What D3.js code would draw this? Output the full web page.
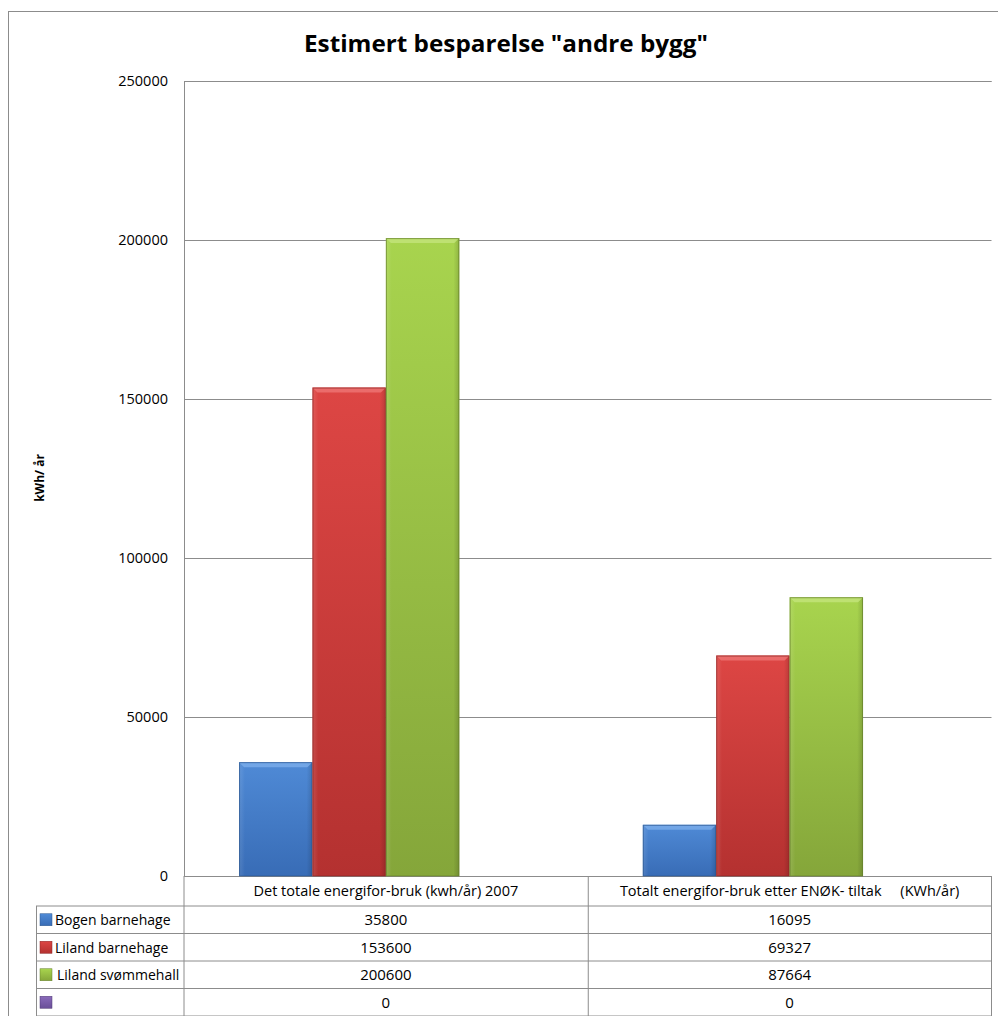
<!DOCTYPE html>
<html><head><meta charset="utf-8">
<script src="https://cdn.jsdelivr.net/npm/d3@7"></script>
<style>
html,body{margin:0;padding:0;background:#fff;}
svg{display:block;font-family:"Open Sans",sans-serif;}
</style></head>
<body><svg id="c" width="998" height="1016"></svg>
<script>
const categories = ["Det totale energifor-bruk (kwh/år) 2007", "Totalt energifor-bruk etter ENØK- tiltak     (KWh/år)"];
const seriesNames = ["Bogen barnehage", "Liland barnehage", "Liland svømmehall", ""];
const seriesValues = [
  [35800, 16095],
  [153600, 69327],
  [200600, 87664],
  [0, 0]
];
const yTicks = [0, 50000, 100000, 150000, 200000, 250000];
const title = 'Estimert besparelse "andre bygg"';
const yLabel = "kWh/ år";

const colors = [
  {top:"#4f8ad6", bot:"#386cb6", edge:"#2c578f", hi:"#7fb0ec"},
  {top:"#dd4644", bot:"#b43130", edge:"#8a2524", hi:"#ef7a78"},
  {top:"#a8d44e", bot:"#85a63a", edge:"#66802c", hi:"#c6e67f"},
  {top:"#8a6bbb", bot:"#6a4e98", edge:"#4e3873", hi:"#b097d8"}
];

const svg = d3.select("#c");
const L = 184, R = 991.5, T = 81, B = 876;
const tableLeft = 36, rowH = 27.5, headerH = 30;

const defs = svg.append("defs");
colors.forEach((c,i)=>{
  const g = defs.append("linearGradient").attr("id","g"+i).attr("x1",0).attr("y1",0).attr("x2",0).attr("y2",1);
  g.append("stop").attr("offset","0%").attr("stop-color",c.top);
  g.append("stop").attr("offset","100%").attr("stop-color",c.bot);
  const h = defs.append("linearGradient").attr("id","h"+i).attr("x1",0).attr("y1",0).attr("x2",1).attr("y2",0);
  h.append("stop").attr("offset","0%").attr("stop-color","#fff").attr("stop-opacity",0.12);
  h.append("stop").attr("offset","8%").attr("stop-color","#fff").attr("stop-opacity",0);
  h.append("stop").attr("offset","92%").attr("stop-color","#000").attr("stop-opacity",0);
  h.append("stop").attr("offset","100%").attr("stop-color","#000").attr("stop-opacity",0.15);
});

svg.append("rect").attr("x",8.5).attr("y",11.5).attr("width",1010).attr("height",1030)
  .attr("fill","#fff").attr("stroke","#8c8c8c").attr("stroke-width",1);

const y = d3.scaleLinear().domain([0, 250000]).range([B, T]);
const x0 = d3.scaleBand().domain(categories).range([L, R]).paddingInner(0).paddingOuter(0);
const x1 = d3.scaleBand().domain(d3.range(seriesNames.length)).range([0, x0.bandwidth()]).paddingInner(0).paddingOuter(0.75);

const yAxis = d3.axisLeft(y).tickValues(yTicks).tickSize(-(R-L)).tickPadding(16).tickFormat(d3.format("d"));
const ga = svg.append("g").attr("transform",`translate(${L},0)`).call(yAxis);
ga.select(".domain").attr("stroke","#8c8c8c");
ga.selectAll(".tick line").attr("stroke","#8c8c8c");
ga.selectAll(".tick text").attr("font-size",14.5).attr("fill","#000").attr("font-family","'Open Sans',sans-serif");

const bars = svg.append("g");
categories.forEach((cat,ci)=>{
  seriesNames.forEach((s,si)=>{
    const v = seriesValues[si][ci];
    if (v <= 0) return;
    const bx = x0(cat) + x1(si), bw = x1.bandwidth();
    const by = y(v), bh = y(0) - y(v);
    const c = colors[si];
    const g = bars.append("g");
    g.append("rect").attr("x",bx).attr("y",by).attr("width",bw).attr("height",bh).attr("fill",`url(#g${si})`);
    g.append("rect").attr("x",bx).attr("y",by).attr("width",bw).attr("height",bh).attr("fill",`url(#h${si})`);
    const bev = 5;
    g.append("path").attr("d",`M${bx},${by}L${bx+bw},${by}L${bx+bw-bev},${by+bev}L${bx+bev},${by+bev}Z`)
      .attr("fill",c.hi).attr("opacity",0.75);
    g.append("rect").attr("x",bx+0.5).attr("y",by+0.5).attr("width",bw-1).attr("height",bh-0.5)
      .attr("fill","none").attr("stroke",c.edge).attr("stroke-opacity",0.7).attr("stroke-width",1);
  });
});

svg.append("text").attr("x",506).attr("y",52).attr("text-anchor","middle")
  .attr("font-size",24).attr("font-weight","bold").attr("fill","#000")
  .attr("textLength",404).attr("lengthAdjust","spacingAndGlyphs").text(title);

svg.append("text").attr("transform","translate(44,478) rotate(-90)").attr("text-anchor","middle")
  .attr("font-size",12).attr("font-weight","bold").attr("fill","#000").text(yLabel);

const tbl = svg.append("g").attr("stroke","#8c8c8c").attr("stroke-width",1);
const rows = seriesNames.length;
const tBottom = B + headerH + rowH*rows;
for (let r=0;r<=rows;r++){
  const yy = B + headerH + r*rowH;
  tbl.append("line").attr("x1",tableLeft).attr("x2",R).attr("y1",yy).attr("y2",yy);
}
tbl.append("line").attr("x1",L).attr("x2",L).attr("y1",B).attr("y2",tBottom);
tbl.append("line").attr("x1",tableLeft+0.5).attr("x2",tableLeft+0.5).attr("y1",B+headerH).attr("y2",tBottom);
tbl.append("line").attr("x1",R).attr("x2",R).attr("y1",B).attr("y2",tBottom);
categories.forEach((cat,i)=>{ if(i>0){ const xx=x0(cat)+0.5; tbl.append("line").attr("x1",xx).attr("x2",xx).attr("y1",B).attr("y2",tBottom);} });

categories.forEach(cat=>{
  svg.append("text").attr("x",x0(cat)+x0.bandwidth()/2).attr("y",B+headerH/2+5)
    .attr("text-anchor","middle").attr("font-size",14.5).attr("fill","#000")
    .style("white-space","pre").text(cat);
});
seriesNames.forEach((s,si)=>{
  const cy = B + headerH + si*rowH + rowH/2;
  svg.append("rect").attr("x",40).attr("y",cy-6).attr("width",12).attr("height",12)
    .attr("fill",`url(#g${si})`).attr("stroke",colors[si].edge).attr("stroke-width",0.5);
  svg.append("text").attr("x",si===2?57:55).attr("y",cy+5.5).attr("font-size",14).attr("fill","#000").text(s);
  categories.forEach((cat,ci)=>{
    svg.append("text").attr("x",x0(cat)+x0.bandwidth()/2).attr("y",cy+5.5)
      .attr("text-anchor","middle").attr("font-size",15).attr("fill","#000").text(seriesValues[si][ci]);
  });
});
</script></body></html>
